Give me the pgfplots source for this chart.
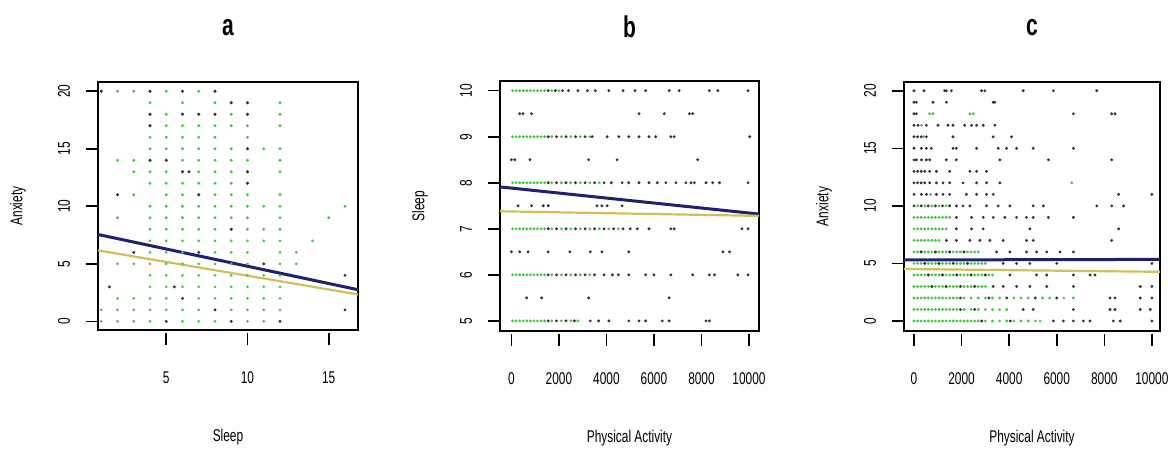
\documentclass[border=0pt]{standalone}
\usepackage{fontspec}
\setmainfont[FakeStretch=0.7]{Liberation Sans}
\usepackage{pgfplots}
\pgfplotsset{compat=1.18}
\definecolor{fitblue}{RGB}{30,32,112}
\definecolor{fityellow}{RGB}{212,190,88}
\definecolor{dotgreen}{RGB}{70,200,70}
\definecolor{dotdark}{RGB}{50,50,50}

\pgfplotsset{
  rpanel/.style={
    scale only axis, anchor=south west,
    axis line style={line width=0.9pt},
    tick align=outside, major tick length=6pt,
    xtick pos=bottom, ytick pos=left,
    every tick/.style={black, line width=0.8pt},
    x tick style={yshift=-1.5pt},
    tick label style={font=\fontsize{8.5}{10}\selectfont},
    xticklabel style={anchor=center, yshift=-18pt},
    yticklabel shift=11pt,
    yticklabel style={rotate=90, anchor=center},
    /pgf/number format/assume math mode=true,
    /pgf/number format/set thousands separator={},
    scaled ticks=false,
    title style={at={(rel axis cs:0.5,1)}, anchor=center, yshift=21pt,
                 font=\bfseries\fontsize{15}{17}\selectfont},
    every axis x label/.style={at={(rel axis cs:0.5,0)}, anchor=center,
                 yshift=-53.5pt, font=\fontsize{8.5}{10}\selectfont},
    every axis y label/.style={at={(rel axis cs:0,0.5)}, anchor=center,
                 xshift=-40pt, rotate=90, font=\fontsize{8.5}{10}\selectfont},
  },
  gdots/.style={only marks, mark=*, color=dotgreen, mark size=0.5pt},
  kdots/.style={only marks, mark=*, color=dotdark, mark size=0.5pt},
}

\begin{document}
\begin{tikzpicture}
\path[use as bounding box] (0,0) rectangle (587.5pt,226pt);

% ---- a: Anxiety vs Sleep
\begin{axis}[rpanel, at={(49pt,61pt)}, width=130pt, height=124pt,
  xmin=0.8, xmax=16.8, ymin=-0.75, ymax=20.8,
  xtick={5,10,15}, ytick={0,5,10,15,20},
  title={a}, xlabel={Sleep}, ylabel={Anxiety}]
\addplot[gdots] coordinates {
 (1,0)(1,1)(1,20)
 (2,0)(2,1)(2,2)(2,5)(2,9)(2,14)(2,20)
 (3,0)(3,1)(3,2)(3,5)(3,6)(3,11)(3,13)(3,14)(3,20)
 (4,0)(4,1)(4,2)(4,3)(4,4)(4,5)(4,6)(4,7)(4,8)(4,9)(4,10)(4,12)(4,13)(4,14)(4,15)(4,16)(4,17)(4,18)(4,19)(4,20)
 (5,0)(5,1)(5,2)(5,3)(5,4)(5,5)(5,6)(5,7)(5,8)(5,9)(5,10)(5,11)(5,12)(5,13)(5,14)(5,15)(5,16)(5,17)(5,18)(5,20)
 (6,0)(6,1)(6,2)(6,3)(6,4)(6,5)(6,6)(6,7)(6,8)(6,9)(6,10)(6,11)(6,12)(6,13)(6,14)(6,15)(6,16)(6,17)(6,18)(6,19)
 (7,0)(7,1)(7,2)(7,3)(7,4)(7,5)(7,6)(7,7)(7,8)(7,9)(7,10)(7,11)(7,12)(7,13)(7,14)(7,15)(7,16)(7,17)(7,18)(7,20)
 (8,0)(8,1)(8,2)(8,3)(8,4)(8,5)(8,6)(8,7)(8,8)(8,9)(8,10)(8,11)(8,12)(8,13)(8,14)(8,15)(8,16)(8,17)(8,18)(8,19)(8,20)
 (9,0)(9,1)(9,2)(9,3)(9,4)(9,5)(9,6)(9,7)(9,8)(9,9)(9,10)(9,11)(9,12)(9,13)(9,14)(9,15)(9,17)(9,18)(9,19)
 (10,0)(10,1)(10,2)(10,3)(10,4)(10,5)(10,6)(10,7)(10,8)(10,9)(10,10)(10,11)(10,12)(10,13)(10,14)(10,15)(10,16)(10,17)(10,18)(10,19)
 (11,0)(11,1)(11,2)(11,3)(11,4)(11,5)(11,7)(11,8)(11,10)(11,15)
 (12,0)(12,1)(12,2)(12,3)(12,4)(12,5)(12,6)(12,7)(12,8)(12,9)(12,10)(12,11)(12,13)(12,14)(12,15)(12,17)(12,18)(12,19)
 (13,5)(13,6)(14,7)(15,9)(16,10)
};
\addplot[kdots] coordinates {
 (1,20)(4,20)(6,20)(8,20)(4,18)(6,18)(7,18)(8,18)(4,17)(4,14)(5,14)(6,13)(6.4,13)
 (10,19)(9,19)(10,15)(10,13)(10,12)(10,18)(2,11)(1.5,3)(5.5,3)(7,6)(3,6)
 (16,4)(16,1)(8,1)(6,2)(11,5)(12,0)(9,0)(5,0)(7,11)(9,8)
};
\addplot[fitblue, line width=1.5pt] coordinates {(0.8,7.55)(16.8,2.75)};
\addplot[fityellow, line width=1.1pt] coordinates {(0.8,6.17)(16.8,2.34)};
\end{axis}

% ---- b: Sleep vs Physical Activity
\begin{axis}[rpanel, at={(250pt,60.5pt)}, width=129.5pt, height=125pt,
  xmin=-480, xmax=10420, ymin=4.78, ymax=10.21,
  xtick={0,2000,4000,6000,8000,10000}, ytick={5,6,7,8,9,10},
  title={b}, xlabel={Physical Activity}, ylabel={Sleep}]
\addplot[gdots] coordinates {
 (50,10)(200,10)(350,10)(500,10)(650,10)(800,10)(950,10)(1100,10)(1250,10)(1400,10)(1700,10)(2000,10)
 (50,9)(200,9)(350,9)(500,9)(650,9)(800,9)(950,9)(1100,9)(1250,9)(1400,9)(1700,9)(2100,9)(2500,9)(2900,9)(3300,9)
 (50,8)(200,8)(350,8)(500,8)(650,8)(800,8)(950,8)(1100,8)(1250,8)(1400,8)(1700,8)(2100,8)(2500,8)(2900,8)(3300,8)(3700,8)
 (50,7)(200,7)(350,7)(500,7)(650,7)(800,7)(950,7)(1100,7)(1250,7)(1400,7)(1700,7)(2100,7)(2500,7)(2900,7)(3300,7)(3700,7)(4100,7)(4500,7)
 (50,6)(200,6)(350,6)(500,6)(650,6)(800,6)(950,6)(1100,6)(1250,6)(1400,6)(1700,6)(2100,6)(2500,6)(2900,6)(3300,6)
 (50,5)(200,5)(350,5)(500,5)(650,5)(800,5)(950,5)(1100,5)(1250,5)(1400,5)(1700,5)(2100,5)(2500,5)(2800,5)
};
\addplot[kdots] coordinates {
 (1550,10)(1850,10)(2150,10)(2400,10)(2800,10)(3200,10)(3530,10)(4100,10)(4700,10)(5200,10)(5650,10)(6640,10)(7060,10)(8330,10)(8690,10)(9960,10)
 (350,9.5)(490,9.5)(850,9.5)(5370,9.5)(6430,9.5)(7490,9.5)(7630,9.5)
 (1550,9)(1900,9)(2300,9)(2700,9)(3100,9)(3400,9)(4030,9)(4520,9)(4940,9)(5370,9)(5790,9)(6070,9)(6710,9)(6850,9)(10030,9)
 (0,8.5)(140,8.5)(780,8.5)(3250,8.5)(4450,8.5)(7840,8.5)
 (1550,8)(1900,8)(2300,8)(2700,8)(3100,8)(3500,8)(3900,8)(4200,8)(4660,8)(4940,8)(5370,8)(5790,8)(6140,8)(6500,8)(6920,8)(7340,8)(7560,8)(7700,8)(8190,8)(8470,8)(8760,8)(9960,8)
 (280,7.5)(850,7.5)(1340,7.5)(1550,7.5)(3600,7.5)(3810,7.5)(4030,7.5)(4660,7.5)
 (1550,7)(1900,7)(2300,7)(2700,7)(3100,7)(3500,7)(3900,7)(4300,7)(4700,7)(5000,7)(5300,7)(5790,7)(6710,7)(6850,7)(9700,7)(9960,7)
 (0,6.5)(350,6.5)(700,6.5)(1550,6.5)(2460,6.5)(3320,6.5)(3810,6.5)(4940,6.5)(8900,6.5)(9180,6.5)
 (1550,6)(1900,6)(2300,6)(2700,6)(3100,6)(3500,6)(3900,6)(4250,6)(4500,6)(4940,6)(5650,6)(6000,6)(6710,6)(7630,6)(8330,6)(8550,6)(9530,6)(9960,6)
 (640,5.5)(1270,5.5)(3250,5.5)(6640,5.5)
 (1550,5)(1900,5)(2300,5)(2650,5)(3320,5)(3670,5)(4100,5)(4940,5)(5370,5)(5650,5)(6350,5)(6640,5)(8190,5)(8330,5)
};
\addplot[fitblue, line width=1.5pt] coordinates {(-480,7.91)(10420,7.32)};
\addplot[fityellow, line width=1.1pt] coordinates {(-480,7.38)(10420,7.28)};
\end{axis}

% ---- c: Anxiety vs Physical Activity
\begin{axis}[rpanel, at={(452pt,60.5pt)}, width=128pt, height=124.5pt,
  xmin=-420, xmax=10340, ymin=-0.87, ymax=20.76,
  xtick={0,2000,4000,6000,8000,10000}, ytick={0,5,10,15,20},
  title={c}, xlabel={Physical Activity}, ylabel={Anxiety}]
\addplot[gdots] coordinates {
 (660,18)(800,18)(2350,18)(2490,18)(310,17)(400,16)(6630,12)(700,11)
 (150,10)(450,10)(750,10)(1050,10)(1350,10)
 (0,9)(150,9)(300,9)(450,9)(600,9)(750,9)(900,9)(1050,9)(1200,9)(1350,9)(1500,9)
 (0,8)(150,8)(300,8)(450,8)(600,8)(750,8)(900,8)(1050,8)(1200,8)(1350,8)
 (0,7)(150,7)(300,7)(450,7)(600,7)(750,7)(900,7)(1050,7)
 (0,6)(150,6)(300,6)(450,6)(600,6)(750,6)(900,6)(1050,6)(1200,6)(1350,6)(1500,6)(1650,6)(1800,6)(1950,6)(2100,6)(2250,6)(2400,6)(2550,6)(2700,6)
 (0,5)(150,5)(300,5)(450,5)(600,5)(750,5)(900,5)(1050,5)(1200,5)(1350,5)(1500,5)(1650,5)(1800,5)(1950,5)(2100,5)(2250,5)(2400,5)(2550,5)(2700,5)(2850,5)(3000,5)
 (0,4)(150,4)(300,4)(450,4)(600,4)(750,4)(900,4)(1050,4)(1200,4)(1350,4)(1500,4)(1650,4)(1800,4)(1950,4)(2100,4)(2250,4)(2400,4)(2550,4)(2700,4)(2850,4)(3000,4)(3150,4)(3300,4)
 (0,3)(150,3)(300,3)(450,3)(600,3)(750,3)(900,3)(1050,3)(1200,3)(1350,3)(1500,3)(1650,3)(1800,3)(1950,3)(2100,3)(2250,3)(2400,3)(2550,3)(2700,3)(2850,3)(3000,3)
 (0,2)(150,2)(300,2)(450,2)(600,2)(750,2)(900,2)(1050,2)(1200,2)(1350,2)(1500,2)(1650,2)(1800,2)(2100,2)(2400,2)(2700,2)(3000,2)(3300,2)(3600,2)(4200,2)(4500,2)(4800,2)(5400,2)(5700,2)(6300,2)(6700,2)
 (0,1)(150,1)(300,1)(450,1)(600,1)(750,1)(900,1)(1050,1)(1200,1)(1350,1)(1500,1)(1650,1)(1800,1)(2100,1)(2400,1)(2700,1)(3000,1)(3300,1)(3600,1)(3900,1)
 (0,0)(150,0)(300,0)(450,0)(600,0)(750,0)(900,0)(1050,0)(1200,0)(1350,0)(1500,0)(1650,0)(1800,0)(1950,0)(2100,0)(2250,0)(2400,0)(2550,0)(2700,0)(3000,0)(3300,0)(3600,0)(3900,0)(4200,0)(4500,0)(4800,0)(5100,0)(5300,0)
};
\addplot[kdots] coordinates {
 (0,20)(420,20)(1290,20)(1360,20)(1570,20)(2840,20)(2980,20)(4590,20)(5860,20)(7680,20)
 (0,19)(100,19)(800,19)(1360,19)(3330,19)(3400,19)
 (0,18)(100,18)(6700,18)(8310,18)(8450,18)
 (0,17)(170,17)(520,17)(1010,17)(1430,17)(1640,17)(2130,17)(2420,17)(2630,17)(2910,17)(3400,17)
 (0,16)(150,16)(300,16)(520,16)(1640,16)(3330,16)(4100,16)
 (0,15)(310,15)(520,15)(730,15)(1640,15)(1780,15)(2630,15)(3540,15)(3890,15)(4310,15)(5010,15)(6700,15)
 (0,14)(100,14)(310,14)(520,14)(660,14)(1360,14)(1780,14)(3610,14)(5650,14)(8310,14)
 (0,13)(150,13)(300,13)(450,13)(660,13)(940,13)(1500,13)(2350,13)(2630,13)(3050,13)
 (0,12)(150,12)(300,12)(450,12)(660,12)(940,12)(1220,12)(1500,12)(2060,12)(2630,12)(3050,12)(3610,12)
 (0,11)(310,11)(520,11)(940,11)(1220,11)(1500,11)(2200,11)(2630,11)(3050,11)(3330,11)(8600,11)(10000,11)
 (0,10)(300,10)(600,10)(900,10)(1200,10)(1500,10)(1780,10)(2060,10)(2350,10)(3050,10)(3540,10)(4030,10)(5010,10)(5440,10)(7680,10)(8310,10)(8810,10)
 (1780,9)(2420,9)(2910,9)(3330,9)(3820,9)(4310,9)(4730,9)(5010,9)(5650,9)(6700,9)
 (1780,8)(2420,8)(2910,8)(4870,8)(8600,8)
 (1360,7)(1780,7)(2350,7)(2770,7)(3190,7)(3750,7)(4730,7)(5010,7)(8310,7)
 (300,6)(900,6)(1500,6)(2100,6)(3470,6)(4030,6)(4730,6)(5150,6)(5580,6)(6140,6)(6700,6)
 (450,5)(1050,5)(1650,5)(2250,5)(3750,5)(4310,5)(4870,5)(6000,5)(10000,5)
 (600,4)(1200,4)(1800,4)(2400,4)(3000,4)(4030,4)(5150,4)(5580,4)(6700,4)(7400,4)(7610,4)
 (750,3)(1350,3)(1950,3)(2550,3)(3330,3)(3750,3)(4310,3)(4870,3)(5580,3)(6700,3)(9510,3)(10000,3)
 (1950,2)(3150,2)(3900,2)(5100,2)(6000,2)(8240,2)(8450,2)(9510,2)(10000,2)
 (1950,1)(2550,1)(4590,1)(5010,1)(6700,1)(8240,1)(8450,1)(9510,1)(9930,1)
 (2850,0)(4050,0)(5860,0)(6280,0)(6700,0)(7120,0)(7400,0)(8380,0)(8670,0)(10000,0)
};
\addplot[fitblue, line width=1.5pt] coordinates {(-420,5.3)(10340,5.35)};
\addplot[fityellow, line width=1.1pt] coordinates {(-420,4.52)(10340,4.27)};
\end{axis}
\end{tikzpicture}
\end{document}
